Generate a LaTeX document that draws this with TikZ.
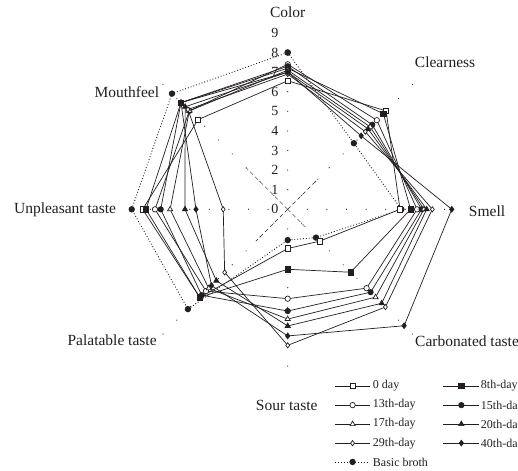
\documentclass[tikz,border=0pt]{standalone}
\usepackage{fontspec}
\setmainfont{Liberation Serif}
\newcommand*{\axisfont}{\fontsize{15.5}{18}\selectfont}
\newcommand*{\scalefont}{\fontsize{14}{16}\selectfont}
\newcommand*{\keyfont}{\fontsize{12}{14}\selectfont}
\definecolor{ink}{cmyk}{0.00,0.00,0.00,1.00}
\definecolor{paper}{cmyk}{0.00,0.00,0.00,0.00}
\usepackage{tikz}
\usetikzlibrary{plotmarks}
\usetikzlibrary{positioning}
\tikzstyle{base}=[x=19.6pt, y=19.6pt, inner sep=0pt, outer sep=0pt]
\tikzstyle{series}=[ink, line width=0.7pt, mark size=2.7pt]
\tikzstyle{day0}=[series, mark=square*, mark options={fill=paper}]
\tikzstyle{day8}=[series, mark=square*, mark options={fill=ink}]
\tikzstyle{day13}=[series, mark=*, mark options={fill=paper}]
\tikzstyle{day15}=[series, mark=*, mark options={fill=ink}]
\tikzstyle{day17}=[series, mark=triangle*, mark size=3pt, mark options={fill=paper}]
\tikzstyle{day20}=[series, mark=triangle*, mark size=3pt, mark options={fill=ink}]
\tikzstyle{day29}=[series, mark=diamond*, mark size=2.6pt, mark options={fill=paper}]
\tikzstyle{day40}=[series, mark=diamond*, mark size=2.9pt, mark options={fill=ink}]
\tikzstyle{broth}=[series, line width=0.9pt, dotted, mark=*, mark options={solid, fill=ink}]
\tikzstyle{spoke}=[ink, line width=0.5pt, dash pattern=on 4pt off 3pt]
\tikzstyle{axis label}=[ink, font=\axisfont]
\tikzstyle{scale label}=[ink, font=\scalefont]
\tikzstyle{key label}=[ink, font=\keyfont, anchor=west]

\begin{document}
\begin{tikzpicture}[base]
    \path [use as bounding box] (-14.68,-13.35) rectangle (11.75,10.68);
        \foreach \a in {0,45,...,315}
            \foreach \r in {1,...,8}
                \fill [ink] (\a:\r) circle (0.6pt);
        \foreach \a in {45,135,-45,-135}
            \fill [ink] (\a:9) circle (0.6pt);
        \draw [spoke] (0,0) -- (135:3);
        \draw [spoke] (0,0) -- (45:2.2);
        \draw [spoke] (0,0) -- (-135:2.3);
        \draw [spoke] (0,0) -- (-45:1.3);
        \foreach \n in {0,...,9}
            \node [scale label] (s\n) at (-0.65,\n) {\n};
        \node [axis label] (color) at (0,10.07) {Color};
        \node [axis label] (clearness) at (8.03,7.52) {Clearness};
        \node [axis label] (smell) at (10.17,-0.09) {Smell};
        \node [axis label] (carbonated) at (9.15,-6.72) {Carbonated taste};
        \node [axis label] (sour) at (-0.05,-10.02) {Sour taste};
        \node [axis label] (palatable) at (-8.96,-6.7) {Palatable taste};
        \node [axis label] (unpleasant) at (-11.36,0) {Unpleasant taste};
        \node [axis label] (mouthfeel) at (-8.21,5.98) {Mouthfeel};
        \draw [broth] plot coordinates {(90:8.0) (45:4.77) (0:5.8) (-45:2.04) (-90:1.57) (-135:7.2) (180:7.96) (135:8.35) (90:8.0)};
        \draw [day0] plot coordinates {(90:6.56) (45:7.1) (0:5.73) (-45:2.3) (-90:2.0) (-135:6.35) (180:7.4) (135:6.47)} -- cycle;
        \draw [day8] plot coordinates {(90:7.2) (45:6.9) (0:6.27) (-45:4.54) (-90:3.06) (-135:6.35) (180:7.23) (135:7.7)} -- cycle;
        \draw [day13] plot coordinates {(90:7.4) (45:6.43) (0:6.6) (-45:5.69) (-90:4.56) (-135:5.9) (180:6.77) (135:7.1)} -- cycle;
        \draw [day15] plot coordinates {(90:7.3) (45:6.1) (0:6.83) (-45:5.98) (-90:5.19) (-135:6.2) (180:6.48) (135:7.7)} -- cycle;
        \draw [day17] plot coordinates {(90:7.1) (45:5.95) (0:6.95) (-45:6.34) (-90:5.6) (-135:5.7) (180:6.0) (135:7.1)} -- cycle;
        \draw [day20] plot coordinates {(90:7.0) (45:5.8) (0:7.09) (-45:6.78) (-90:5.95) (-135:5.15) (180:5.24) (135:7.4)} -- cycle;
        \draw [day29] plot coordinates {(90:6.9) (45:5.6) (0:7.38) (-45:7.05) (-90:6.94) (-135:4.55) (180:3.29) (135:7.2)} -- cycle;
        \draw [day40] plot coordinates {(90:7.0) (45:5.3) (0:8.37) (-45:8.4) (-90:6.46) (-135:5.5) (180:4.68) (135:7.7)} -- cycle;
        \draw [day0] plot [mark indices={2}] coordinates {(2.42,-9.02) (3.31,-9.02) (4.19,-9.02)};
        \node [key label] (k0) at (4.35,-9.02) {0 day};
        \draw [day13] plot [mark indices={2}] coordinates {(2.42,-9.99) (3.31,-9.99) (4.19,-9.99)};
        \node [key label] (k13) at (4.35,-9.99) {13th-day};
        \draw [day17] plot [mark indices={2}] coordinates {(2.42,-10.96) (3.31,-10.96) (4.19,-10.96)};
        \node [key label] (k17) at (4.35,-10.96) {17th-day};
        \draw [day29] plot [mark indices={2}] coordinates {(2.42,-11.93) (3.31,-11.93) (4.19,-11.93)};
        \node [key label] (k29) at (4.35,-11.93) {29th-day};
        \draw [broth] plot [mark indices={2}] coordinates {(2.42,-12.89) (3.31,-12.89) (4.19,-12.89)};
        \node [key label] (kb) at (4.35,-12.89) {Basic broth};
        \draw [day8] plot [mark indices={2}] coordinates {(7.94,-9.02) (8.86,-9.02) (9.77,-9.02)};
        \node [key label] (k8) at (9.86,-9.02) {8th-day};
        \draw [day15] plot [mark indices={2}] coordinates {(7.94,-9.99) (8.86,-9.99) (9.77,-9.99)};
        \node [key label] (k15) at (9.86,-9.99) {15th-da};
        \draw [day20] plot [mark indices={2}] coordinates {(7.94,-10.96) (8.86,-10.96) (9.77,-10.96)};
        \node [key label] (k20) at (9.86,-10.96) {20th-da};
        \draw [day40] plot [mark indices={2}] coordinates {(7.94,-11.93) (8.86,-11.93) (9.77,-11.93)};
        \node [key label] (k40) at (9.86,-11.93) {40th-da};
    \end{tikzpicture}
\end{document}
